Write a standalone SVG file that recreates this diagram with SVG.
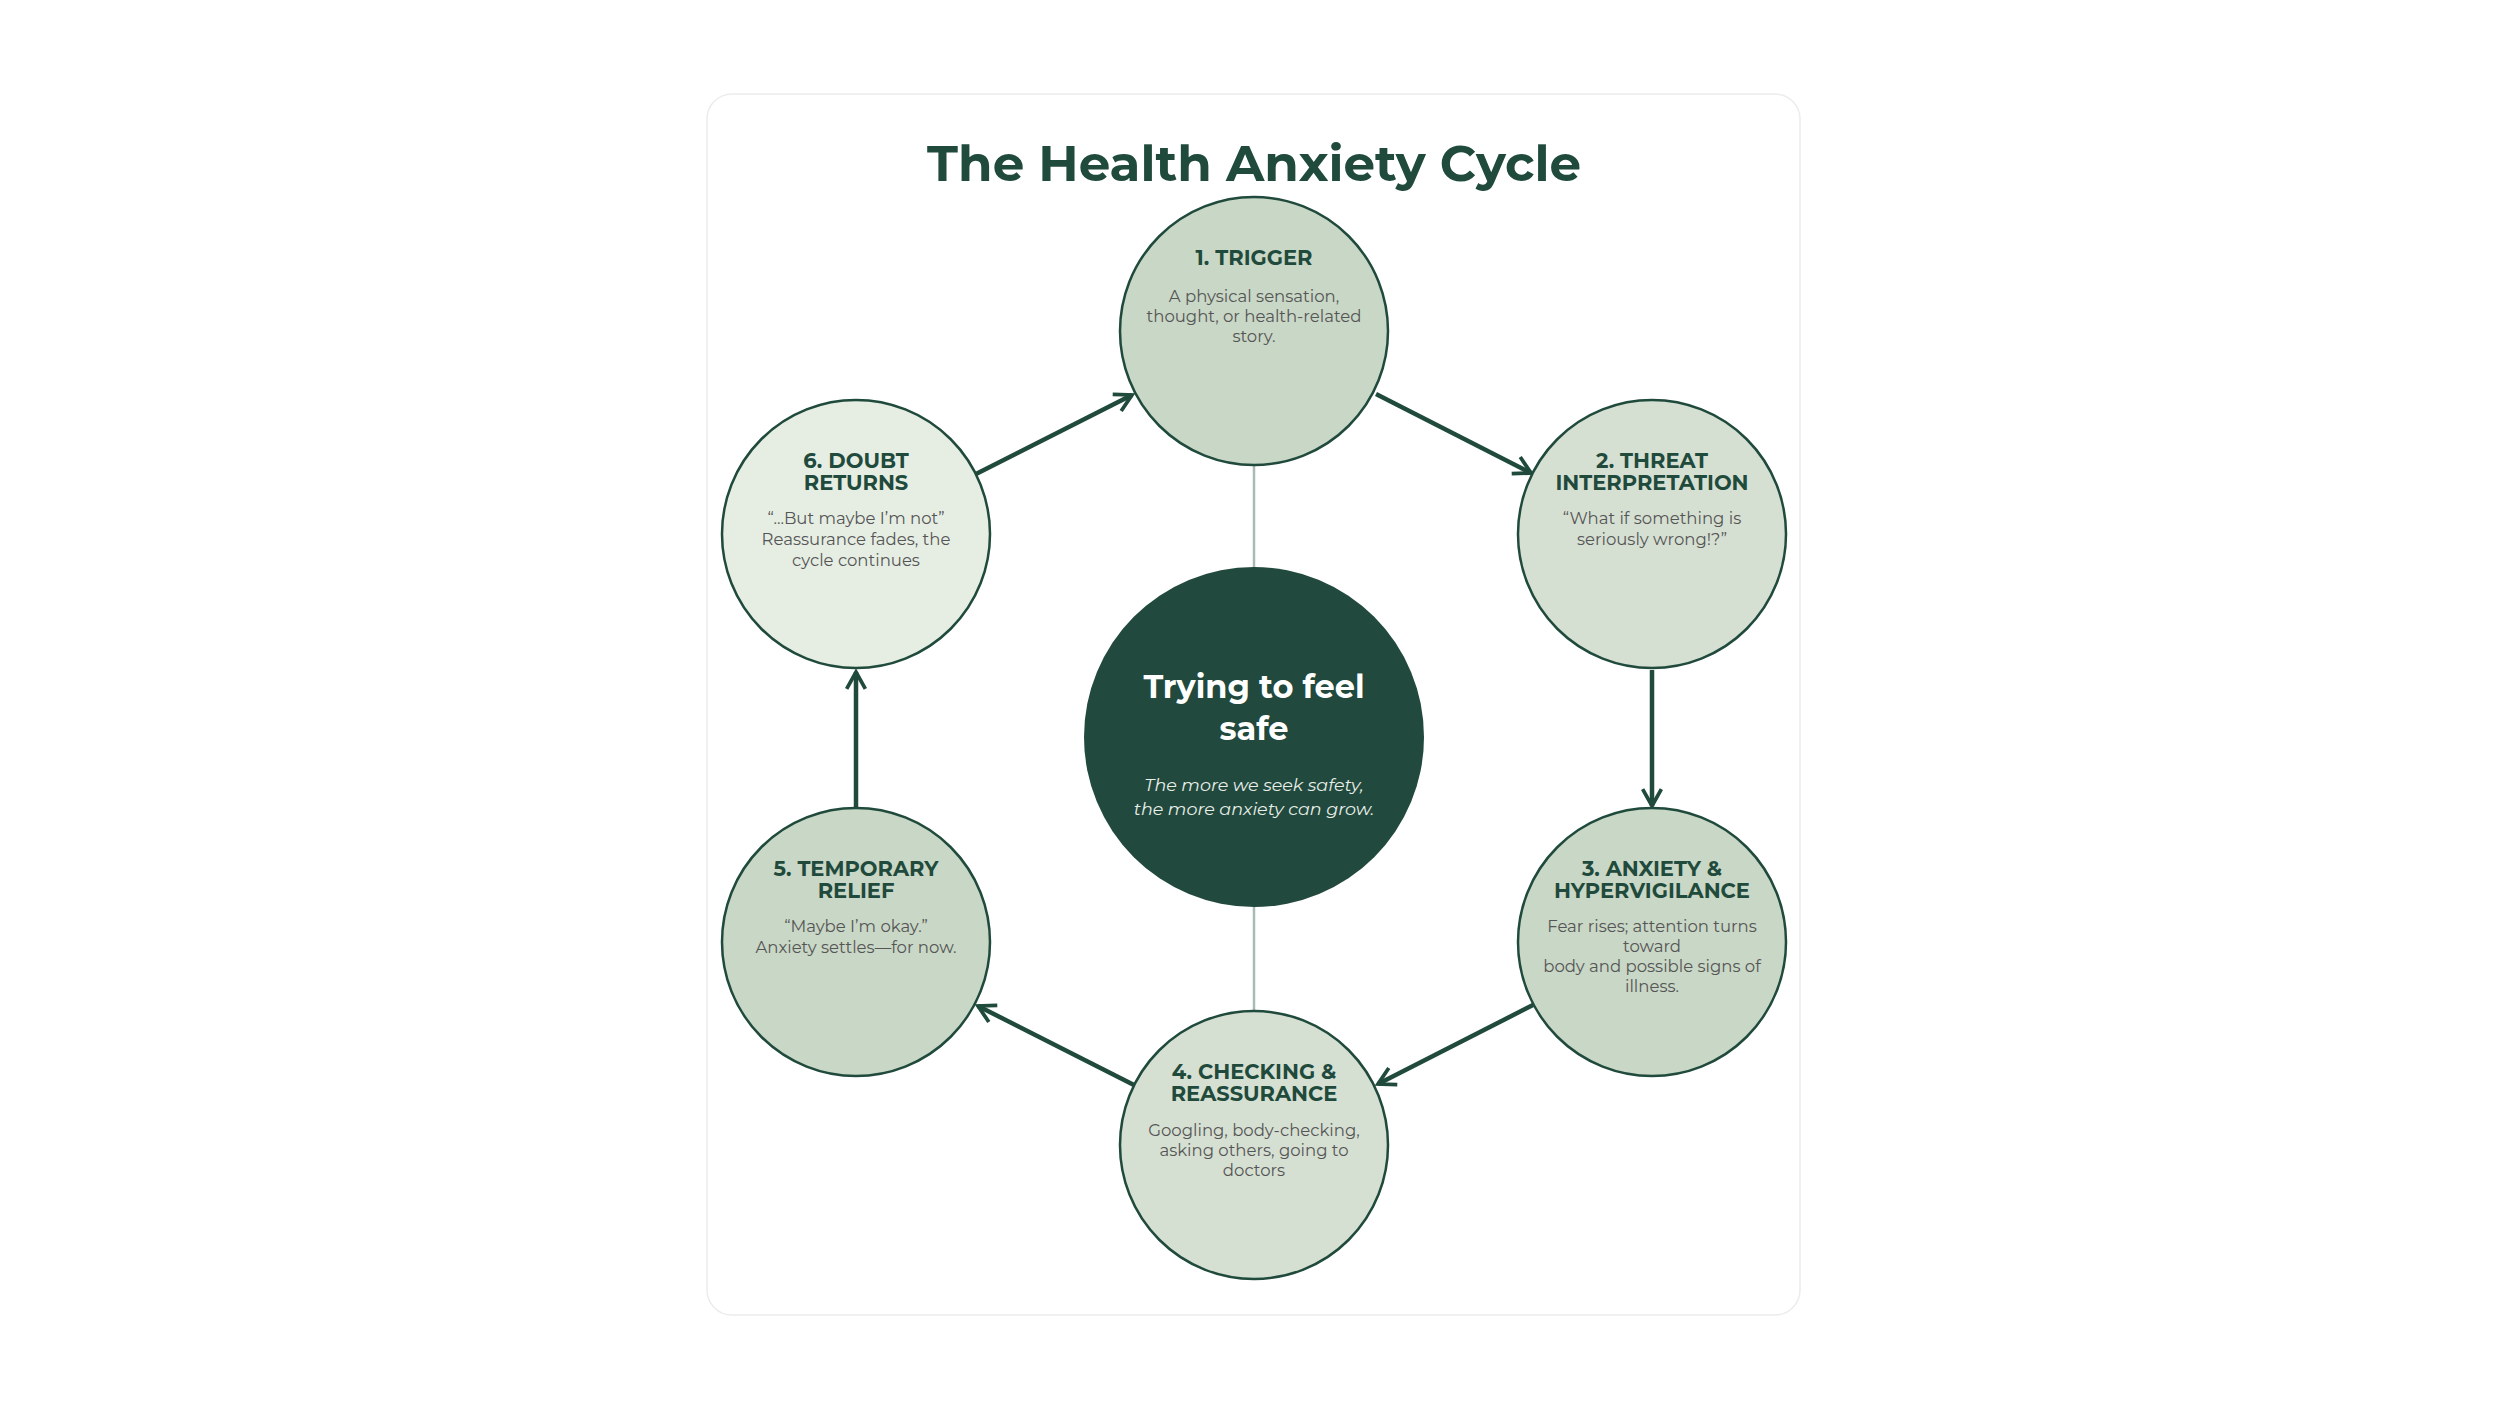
<svg xmlns="http://www.w3.org/2000/svg" width="2500" height="1406" viewBox="0 0 2500 1406">
<defs>
<style>
.n{stroke:#1f4a3c;stroke-width:2.5}
.t{font-family:Montserrat,"Open Sans","Liberation Sans",sans-serif;font-weight:700;font-size:21px;fill:#1f4a3c;text-anchor:middle}
.d{font-family:Montserrat,"Open Sans","Liberation Sans",sans-serif;font-size:16.5px;fill:#555;text-anchor:middle}
.a{stroke:#1f4a3c;stroke-width:4.5;fill:none;marker-end:url(#ah)}
.g{stroke:#a9b9b3;stroke-width:2.5}
</style>
<marker id="ah" viewBox="0 0 12 12" refX="10" refY="6" markerWidth="5" markerHeight="5" orient="auto" markerUnits="strokeWidth">
<path d="M1,1 L10,6 L1,11" fill="none" stroke="#1f4a3c" stroke-width="2"/>
</marker>
</defs>
<rect width="2500" height="1406" fill="#fff"/>
<rect x="707" y="94" width="1093" height="1221" rx="25" fill="#fff" stroke="#ececec" stroke-width="1.5"/>
<text x="1254" y="181" font-family="Montserrat,'Open Sans','Liberation Sans',sans-serif" font-weight="700" font-size="50" fill="#1f4a3c" text-anchor="middle">The Health Anxiety Cycle</text>
<g id="connectors">
<line class="g" x1="1254" y1="466" x2="1254" y2="569"/>
<line class="g" x1="1254" y1="907" x2="1254" y2="1011"/>
<line class="a" x1="1376" y1="394" x2="1531" y2="473"/>
<line class="a" x1="1652" y1="670" x2="1652" y2="806"/>
<line class="a" x1="1533" y1="1005" x2="1378" y2="1084"/>
<line class="a" x1="1134" y1="1085" x2="978" y2="1006"/>
<line class="a" x1="856" y1="808" x2="856" y2="672"/>
<line class="a" x1="976" y1="474" x2="1132" y2="395"/>
</g>
<g id="center">
<circle cx="1254" cy="737" r="170" fill="#21493d"/>
<text x="1254" y="698" font-family="Montserrat,'Open Sans','Liberation Sans',sans-serif" font-weight="700" font-size="32" fill="#fff" text-anchor="middle">Trying to feel</text>
<text x="1254" y="740" font-family="Montserrat,'Open Sans','Liberation Sans',sans-serif" font-weight="700" font-size="32" fill="#fff" text-anchor="middle">safe</text>
<text x="1254" y="791" font-family="Montserrat,'Open Sans','Liberation Sans',sans-serif" font-style="italic" font-size="17.5" fill="#e8efe9" text-anchor="middle">The more we seek safety,</text>
<text x="1254" y="815" font-family="Montserrat,'Open Sans','Liberation Sans',sans-serif" font-style="italic" font-size="17.5" fill="#e8efe9" text-anchor="middle">the more anxiety can grow.</text>
</g>
<g id="n1">
<circle class="n" cx="1254" cy="331" r="134" fill="#c9d7c6"/>
<text class="t" x="1254" y="265">1. TRIGGER</text>
<text class="d" x="1254" y="302">A physical sensation,</text>
<text class="d" x="1254" y="322">thought, or health-related</text>
<text class="d" x="1254" y="342">story.</text>
</g>
<g id="n2">
<circle class="n" cx="1652" cy="534" r="134" fill="#d5e0d3"/>
<text class="t" x="1652" y="468">2. THREAT</text>
<text class="t" x="1652" y="490">INTERPRETATION</text>
<text class="d" x="1652" y="524">“What if something is</text>
<text class="d" x="1652" y="545">seriously wrong!?”</text>
</g>
<g id="n3">
<circle class="n" cx="1652" cy="942" r="134" fill="#c9d7c6"/>
<text class="t" x="1652" y="876">3. ANXIETY &amp;</text>
<text class="t" x="1652" y="898">HYPERVIGILANCE</text>
<text class="d" x="1652" y="932">Fear rises; attention turns</text>
<text class="d" x="1652" y="952">toward</text>
<text class="d" x="1652" y="972">body and possible signs of</text>
<text class="d" x="1652" y="992">illness.</text>
</g>
<g id="n4">
<circle class="n" cx="1254" cy="1145" r="134" fill="#d5e0d3"/>
<text class="t" x="1254" y="1079">4. CHECKING &amp;</text>
<text class="t" x="1254" y="1101">REASSURANCE</text>
<text class="d" x="1254" y="1136">Googling, body-checking,</text>
<text class="d" x="1254" y="1156">asking others, going to</text>
<text class="d" x="1254" y="1176">doctors</text>
</g>
<g id="n5">
<circle class="n" cx="856" cy="942" r="134" fill="#c9d7c6"/>
<text class="t" x="856" y="876">5. TEMPORARY</text>
<text class="t" x="856" y="898">RELIEF</text>
<text class="d" x="856" y="932">“Maybe I’m okay.”</text>
<text class="d" x="856" y="953">Anxiety settles—for now.</text>
</g>
<g id="n6">
<circle class="n" cx="856" cy="534" r="134" fill="#e6eee4"/>
<text class="t" x="856" y="468">6. DOUBT</text>
<text class="t" x="856" y="490">RETURNS</text>
<text class="d" x="856" y="524">“...But maybe I’m not”</text>
<text class="d" x="856" y="545">Reassurance fades, the</text>
<text class="d" x="856" y="566">cycle continues</text>
</g>
</svg>
